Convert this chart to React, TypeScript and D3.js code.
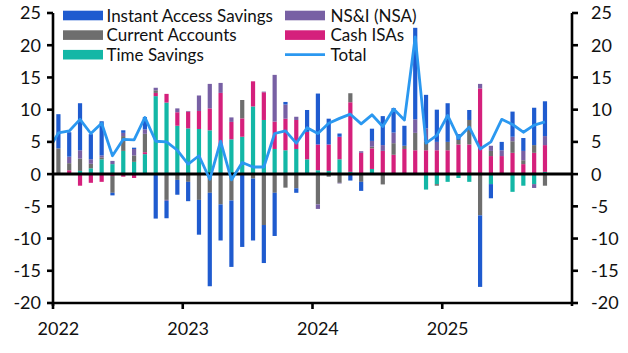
import React from "react";
import * as d3 from "d3";

// monthly flows, Jan 2022 - Oct 2025
const months = d3.range(46).map((i) => new Date(2022, i, 1));

const instantAccess = [
  5.3, 3.8, 7.3, 3.9, 5.3, -0.4, 0.4, 0.2, 1.9, -6.9, -2.7, -2.3,
  -3.0, -5.4, -14.5, -5.6, -10.3, -11.3, -9.6, -5.9, -6.7, 0.4, -0.7, 3.4,
  7.9, 4.0, 0.5, -1.0, -1.4, 1.9, 4.5, 3.8, 3.1, 14.2, 5.2, 5.0,
  6.0, 0.9, 1.55, -11.1, -2.2, 1.3, 3.9, 2.0, 5.8, 5.4,
];
const currentAccounts = [
  4.0, 1.1, 1.9, 0.7, 0.3, -2.6, 2.3, 1.0, 2.85, 0.4, -4.0, -0.9,
  -1.2, -4.0, -2.9, -4.7, -4.1, 2.85, -0.7, -7.9, -2.9, -2.1, -2.2, 0,
  -4.7, -0.4, -1.35, 1.4, -1.2, 0.25, -1.6, 1.8, 0.5, 2.7, 1.4, -0.25,
  1.3, 0.7, 3.8, -6.4, 0.8, 0, 1.8, 0.6, 1.2, -1.8,
];
const timeSavings = [
  0, 0, 0.5, 0.9, 2.3, 1.55, 3.6, 1.9, 3.1, 12.1, 11.1, 7.5,
  7.1, 7.0, 6.8, 4.3, 5.4, 5.8, 10.5, 8.4, 3.9, 3.7, 3.9, 2.3,
  0.6, 0.5, 2.3, 0.35, 0, 0.8, 0, 0, 0, 0, -2.4, -1.55,
  -1.2, -0.6, -1.2, 0, -1.55, 0, -2.75, -1.8, -1.55, 0.35,
];
const nsi = [
  0, 1.0, 1.3, 0.7, 0.3, 0.5, 0.5, 1.0, 0.7, 0.4, -0.15, 0.6,
  0.1, 2.4, 3.8, 1.55, 0.7, 0, 0, 0.1, 7.25, 2.2, 0.5, 0,
  -0.7, 0, -0.1, 0, 0.25, 0.9, 0.9, 1.65, 0, 2.1, 2.0, 1.3,
  0, 0, 0, 0.7, 0.8, 0.9, 0.7, 1.45, -0.6, 1.4,
];
const cashIsas = [
  0, 0.6, -1.8, -1.35, -1.2, -0.3, -0.4, -0.6, 0.3, 0.5, 1.35, 2.1,
  2.6, 2.8, 3.4, 8.3, 2.7, 2.85, 3.9, 4.3, 4.25, 4.9, 4.5, 4.25,
  4.0, 4.1, 3.5, 10.8, 3.3, 3.2, 3.6, 3.0, 3.9, 3.7, 3.7, 3.7,
  3.7, 4.6, 4.6, 13.3, 2.8, 2.8, 3.3, 1.55, 3.3, 4.15,
];
// total starts Dec 2021 (clipped at the axis)
const total = [
  3.5,
  6.4, 6.7, 8.5, 6.3, 7.9, 2.85, 5.4, 5.3, 8.8, 5.1, 5.0, 3.7,
  1.55, 2.85, -0.8, 5.1, -0.9, 1.8, 1.1, 1.1, 6.3, 6.7, 4.8, 7.2,
  6.3, 7.9, 8.65, 9.3, 7.8, 9.2, 7.4, 10.1, 8.4, 21.3, 4.8, 6.0,
  9.1, 5.6, 7.3, 3.9, 5.0, 8.5, 7.7, 6.5, 7.6, 8.1,
];
const yTicks = [-20, -15, -10, -5, 0, 5, 10, 15, 20, 25];
const years = [2022, 2023, 2024, 2025];

const colors = {
  instant: "#1F5BCF",
  current: "#6E6E6E",
  time: "#13B7A6",
  nsi: "#7860A4",
  cash: "#D5207C",
  total: "#2B98F0",
};

// stacking order from the zero line outwards
const stackKeys = ["time", "cash", "current", "nsi", "instant"];
const seriesValues: Record<string, number[]> = {
  instant: instantAccess,
  current: currentAccounts,
  time: timeSavings,
  nsi: nsi,
  cash: cashIsas,
};

const legendLeft = [
  { key: "instant", label: "Instant Access Savings" },
  { key: "current", label: "Current Accounts" },
  { key: "time", label: "Time Savings" },
];
const legendRight = [
  { key: "nsi", label: "NS&I (NSA)" },
  { key: "cash", label: "Cash ISAs" },
  { key: "total", label: "Total" },
];

export default function App() {
  const width = 628;
  const height = 353;
  const margin = { top: 13, right: 56, bottom: 50, left: 53 };
  const font = "Lato, 'Open Sans', sans-serif";

  const x = d3
    .scaleLinear()
    .domain([0, 48])
    .range([margin.left, width - margin.right]);
  const y = d3
    .scaleLinear()
    .domain([-20, 25])
    .range([height - margin.bottom, margin.top]);

  const rows = months.map((m, i) => {
    const r: Record<string, number> = { i };
    stackKeys.forEach((k) => (r[k] = seriesValues[k][i]));
    return r;
  });
  const stacked = d3
    .stack<Record<string, number>>()
    .keys(stackKeys)
    .offset(d3.stackOffsetDiverging)(rows);

  const barW = 4.2;

  const line = d3
    .line<number>()
    .x((d, i) => x(i - 0.5))
    .y((d) => y(d));

  const x0 = x(0);
  const x1 = x(48);

  return (
    <div>
      <style>{`body{margin:0}`}</style>
      <svg width={width} height={height} style={{ display: "block" }}>
        <defs>
          <clipPath id="plot">
            <rect x={x0} y={0} width={x1 - x0} height={height} />
          </clipPath>
        </defs>

        {/* bars */}
        {stacked.map((s) => (
          <g key={s.key} fill={(colors as any)[s.key]}>
            {s.map((d, i) =>
              d[1] - d[0] === 0 ? null : (
                <rect
                  key={i}
                  x={x(i + 0.5) - barW / 2}
                  width={barW}
                  y={y(Math.max(d[0], d[1]))}
                  height={Math.abs(y(d[0]) - y(d[1]))}
                />
              )
            )}
          </g>
        ))}

        {/* zero line */}
        <line x1={x0} x2={x1} y1={y(0)} y2={y(0)} stroke="#000" strokeWidth={3} />

        {/* total */}
        <path
          d={line(total) || ""}
          fill="none"
          stroke={colors.total}
          strokeWidth={2.8}
          strokeLinejoin="round"
          clipPath="url(#plot)"
        />

        {/* axes */}
        <g stroke="#000" strokeWidth={2.6}>
          <line x1={x0} x2={x0} y1={y(25)} y2={y(-20) + 3} />
          <line x1={x1} x2={x1} y1={y(25)} y2={y(-20) + 3} />
          <line x1={x0} x2={x1} y1={y(-20)} y2={y(-20)} />
          {yTicks.map((t) => (
            <g key={t}>
              <line x1={x0 - 6} x2={x0} y1={y(t)} y2={y(t)} />
              <line x1={x1} x2={x1 + 6} y1={y(t)} y2={y(t)} />
            </g>
          ))}
          {years.map((yr) => {
            const xx = x((yr - 2022) * 12);
            return <line key={yr} x1={xx} x2={xx} y1={y(-20)} y2={y(-20) + 6} />;
          })}
        </g>

        <g fontFamily={font} fontSize={18} fill="#111">
          {yTicks.map((t) => (
            <g key={t}>
              <text x={x0 - 12} y={y(t)} dy="0.36em" textAnchor="end">
                {t}
              </text>
              <text x={x1 + 19} y={y(t)} dy="0.36em" textAnchor="start">
                {t}
              </text>
            </g>
          ))}
          {years.map((yr) => (
            <text
              key={yr}
              x={x((yr - 2022) * 12 + 0.5)}
              y={335}
              textAnchor="middle"
            >
              {yr}
            </text>
          ))}
        </g>

        {/* legend */}
        <g fontFamily={font} fontSize={17} fill="#111">
          {legendLeft.map((l, i) => (
            <g key={l.key} transform={`translate(63, ${15.5 + i * 19.6})`}>
              <rect x={0} y={-4.8} width={40} height={9.6} fill={(colors as any)[l.key]} />
              <text x={43.5} y={0} dy="0.36em">
                {l.label}
              </text>
            </g>
          ))}
          {legendRight.map((l, i) => (
            <g key={l.key} transform={`translate(285, ${15.5 + i * 19.6})`}>
              {l.key === "total" ? (
                <line x1={0} x2={40} y1={0} y2={0} stroke={colors.total} strokeWidth={2.8} />
              ) : (
                <rect x={0} y={-4.8} width={40} height={9.6} fill={(colors as any)[l.key]} />
              )}
              <text x={45.5} y={0} dy="0.36em">
                {l.label}
              </text>
            </g>
          ))}
        </g>
      </svg>
    </div>
  );
}
